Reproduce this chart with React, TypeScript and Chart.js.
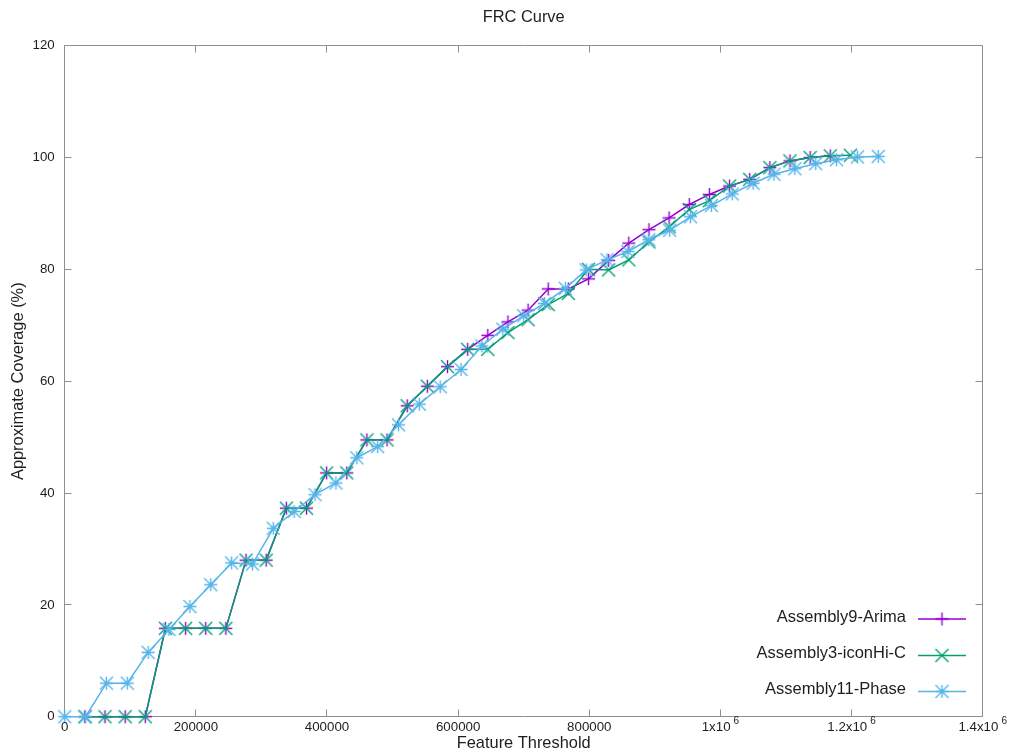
import { useEffect, useRef } from "react";
import { Chart, registerables } from "chart.js";

Chart.register(...registerables);

// Feature threshold / approximate coverage (%) per assembly
const arimaThreshold = [
  30725, 61450, 92175, 122900, 153625, 184350, 215075, 245800, 276525, 307250,
  337975, 368700, 399425, 430150, 460875, 491600, 522325, 553050, 583775, 614500,
  645225, 675950, 706675, 737400, 768125, 798850, 829575, 860300, 891025, 921750,
  952475, 983200, 1013925, 1044650, 1075375, 1106100, 1136825, 1167550,
];
const arimaCoverage = [
  0, 0, 0, 0, 15.8, 15.8, 15.8, 15.8, 28, 28,
  37.3, 37.3, 43.6, 43.6, 49.5, 49.5, 55.6, 59.1, 62.6, 65.7,
  68.2, 70.6, 72.7, 76.5, 76.5, 78.3, 81.6, 84.7, 87.1, 89.2,
  91.6, 93.4, 94.9, 96.1, 98.2, 99.4, 100, 100.3,
];

const iconHiCThreshold = [
  30725, 61450, 92175, 122900, 153625, 184350, 215075, 245800, 276525, 307250,
  337975, 368700, 399425, 430150, 460875, 491600, 522325, 553050, 583775, 614500,
  645225, 675950, 706675, 737400, 768125, 798850, 829575, 860300, 891025, 921750,
  952475, 983200, 1013925, 1044650, 1075375, 1106100, 1136825, 1167550, 1198275,
];
const iconHiCCoverage = [
  0, 0, 0, 0, 15.8, 15.8, 15.8, 15.8, 28, 28,
  37.3, 37.3, 43.6, 43.6, 49.5, 49.5, 55.6, 59.1, 62.6, 65.7,
  65.7, 68.7, 71.0, 73.7, 75.7, 80.0, 79.9, 81.7, 84.9, 87.6,
  90.7, 92.3, 94.9, 96.1, 98.2, 99.4, 100, 100.3, 100.4,
];

const phaseThreshold = [
  0, 31814, 63628, 95442, 127256, 159070, 190884, 222698, 254512, 286326,
  318140, 349954, 381768, 413582, 445396, 477210, 509024, 540838, 572652, 604466,
  636280, 668094, 699908, 731722, 763536, 795350, 827164, 858978, 890792, 922606,
  954420, 986234, 1018048, 1049862, 1081676, 1113490, 1145304, 1177118, 1208932, 1240746,
];
const phaseCoverage = [
  0, 0, 6, 6, 11.5, 15.6, 19.7, 23.6, 27.5, 27.3,
  33.7, 36.7, 39.7, 41.8, 46.3, 48.3, 52.2, 55.9, 59.0, 62.1,
  66.3, 69.3, 71.7, 73.9, 76.6, 79.9, 81.7, 83.2, 85.3, 87.0,
  89.4, 91.4, 93.5, 95.4, 97.0, 98.0, 98.9, 99.6, 100.1, 100.2,
];

const seriesNames = ["Assembly9-Arima", "Assembly3-iconHi-C", "Assembly11-Phase"];
const seriesColors = ["#9400d3", "#009e73", "#56b4e9"];
const seriesMarkers: MarkerKind[] = ["plus", "cross", "star"];

const xTickValues = [0, 200000, 400000, 600000, 800000, 1000000, 1200000, 1400000];
const xTickMantissa = ["0", "200000", "400000", "600000", "800000", "1x10", "1.2x10", "1.4x10"];
const xTickExponent = ["", "", "", "", "", "6", "6", "6"];
const yTickValues = [0, 20, 40, 60, 80, 100, 120];

const chartTitle = "FRC Curve";
const xTitle = "Feature Threshold";
const yTitle = "Approximate Coverage (%)";

const FONT = "'Liberation Sans', Arial, sans-serif";
const TEXT = "#1e1e1e";
const FRAME = "#8f8f8f";

type MarkerKind = "plus" | "cross" | "star";

function makeMarker(kind: MarkerKind, color: string): HTMLCanvasElement {
  const size = 17;
  const c = size / 2;
  const s = 6.5;
  const cv = document.createElement("canvas");
  cv.width = size;
  cv.height = size;
  const g = cv.getContext("2d")!;
  g.strokeStyle = color;
  g.lineWidth = 1.4;
  g.beginPath();
  if (kind !== "cross") {
    g.moveTo(c - s, c);
    g.lineTo(c + s, c);
    g.moveTo(c, c - s);
    g.lineTo(c, c + s);
  }
  if (kind !== "plus") {
    g.moveTo(c - s, c - s);
    g.lineTo(c + s, c + s);
    g.moveTo(c - s, c + s);
    g.lineTo(c + s, c - s);
  }
  g.stroke();
  return cv;
}

const crisp = (v: number) => Math.round(v - 0.5) + 0.5;

// Gnuplot-style frame: full border with inward, mirrored tick marks
const framePlugin = {
  id: "frcFrame",
  beforeDatasetsDraw(chart: any) {
    const { ctx, chartArea: a, scales } = chart;
    const L = crisp(a.left);
    const R = crisp(a.right);
    const T = crisp(a.top);
    const B = crisp(a.bottom);
    const tick = 7;
    ctx.save();
    ctx.strokeStyle = FRAME;
    ctx.lineWidth = 1;
    ctx.beginPath();
    ctx.rect(L, T, R - L, B - T);
    for (const v of xTickValues) {
      const px = crisp(scales.x.getPixelForValue(v));
      ctx.moveTo(px, B);
      ctx.lineTo(px, B - tick);
      ctx.moveTo(px, T);
      ctx.lineTo(px, T + tick);
    }
    for (const v of yTickValues) {
      const py = crisp(scales.y.getPixelForValue(v));
      ctx.moveTo(L, py);
      ctx.lineTo(L + tick, py);
      ctx.moveTo(R, py);
      ctx.lineTo(R - tick, py);
    }
    ctx.stroke();
    ctx.restore();
  },
  afterDraw(chart: any) {
    const { ctx, chartArea: a, scales } = chart;
    ctx.save();
    ctx.fillStyle = TEXT;

    // x tick labels, with raised exponents
    const base = 13.3;
    const sup = 10;
    const labelY = 727.5;
    xTickValues.forEach((v, i) => {
      const px = scales.x.getPixelForValue(v);
      ctx.font = `${base}px ${FONT}`;
      const mw = ctx.measureText(xTickMantissa[i]).width;
      let ew = 0;
      const gap = xTickExponent[i] ? 3 : 0;
      if (xTickExponent[i]) {
        ctx.font = `${sup}px ${FONT}`;
        ew = ctx.measureText(xTickExponent[i]).width;
      }
      const start = px - (mw + gap + ew) / 2;
      ctx.font = `${base}px ${FONT}`;
      ctx.textAlign = "left";
      ctx.textBaseline = "middle";
      ctx.fillText(xTickMantissa[i], start, labelY);
      if (xTickExponent[i]) {
        ctx.font = `${sup}px ${FONT}`;
        ctx.fillText(xTickExponent[i], start + mw + gap, labelY - 6);
      }
    });

    // titles
    const cx = (a.left + a.right) / 2;
    const cy = (a.top + a.bottom) / 2;
    ctx.textAlign = "center";
    ctx.textBaseline = "middle";
    ctx.font = `16.4px ${FONT}`;
    ctx.fillText(chartTitle, cx, 17);
    ctx.fillText(xTitle, cx, 743.5);
    ctx.save();
    ctx.translate(18.5, cy);
    ctx.rotate(-Math.PI / 2);
    ctx.fillText(yTitle, 0, 0);
    ctx.restore();

    ctx.restore();
  },
  afterDatasetsDraw(chart: any) {
    const { ctx } = chart;
    const rows = [619, 655.5, 691.5];
    const textRight = 906;
    const lineStart = 918;
    const lineEnd = 966;
    ctx.save();
    seriesNames.forEach((name, i) => {
      const y = rows[i];
      ctx.font = `16.5px ${FONT}`;
      ctx.fillStyle = TEXT;
      ctx.textAlign = "right";
      ctx.textBaseline = "middle";
      ctx.fillText(name, textRight, y - 2);
      ctx.strokeStyle = seriesColors[i];
      ctx.lineWidth = 1.5;
      ctx.beginPath();
      ctx.moveTo(lineStart, y);
      ctx.lineTo(lineEnd, y);
      ctx.stroke();
      const m = makeMarker(seriesMarkers[i], seriesColors[i]);
      ctx.drawImage(m, (lineStart + lineEnd) / 2 - m.width / 2, y - m.height / 2);
    });
    ctx.restore();
  },
};

export default function App() {
  const canvasRef = useRef<HTMLCanvasElement | null>(null);

  useEffect(() => {
    const canvas = canvasRef.current;
    if (!canvas) return;

    const toPoints = (xs: number[], ys: number[]) => xs.map((x, i) => ({ x, y: ys[i] }));
    const data = [
      toPoints(arimaThreshold, arimaCoverage),
      toPoints(iconHiCThreshold, iconHiCCoverage),
      toPoints(phaseThreshold, phaseCoverage),
    ];

    const chart = new Chart(canvas, {
      type: "line",
      data: {
        datasets: seriesNames.map((name, i) => ({
          label: name,
          data: data[i],
          borderColor: seriesColors[i],
          backgroundColor: seriesColors[i],
          borderWidth: 1.5,
          tension: 0,
          fill: false,
          pointStyle: makeMarker(seriesMarkers[i], seriesColors[i]) as any,
          pointRadius: 7,
          pointHoverRadius: 7,
          clip: false as any,
          order: 3 - i,
        })),
      },
      options: {
        animation: false,
        responsive: false,
        maintainAspectRatio: false,
        events: [],
        layout: { padding: { left: 0, right: 27.3, top: 45.7, bottom: 0 } },
        plugins: {
          legend: { display: false },
          title: { display: false },
          tooltip: { enabled: false },
        },
        scales: {
          x: {
            type: "linear",
            min: 0,
            max: 1400000,
            ticks: { display: false, stepSize: 200000 },
            grid: { display: false },
            border: { display: false },
            afterFit: (s: any) => {
              s.height = 34.3;
            },
          },
          y: {
            type: "linear",
            min: 0,
            max: 120,
            ticks: {
              stepSize: 20,
              padding: 10,
              color: TEXT,
              font: { family: FONT, size: 13.3 },
            },
            grid: { display: false, drawTicks: false },
            border: { display: false },
            afterFit: (s: any) => {
              s.width = 64.7;
            },
          },
        },
      },
      plugins: [framePlugin],
    });

    return () => chart.destroy();
  }, []);

  return (
    <div style={{ position: "absolute", left: 0, top: 0, width: 1010, height: 751, background: "#fff" }}>
      <canvas ref={canvasRef} width={1010} height={751} style={{ display: "block" }} />
    </div>
  );
}
